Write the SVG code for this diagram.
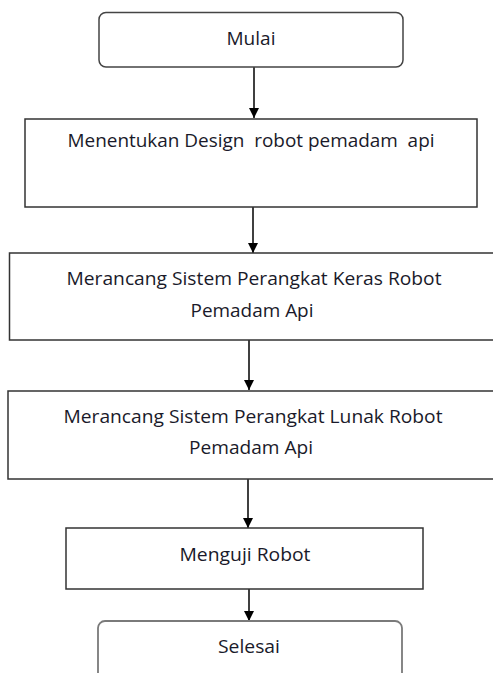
<svg xmlns="http://www.w3.org/2000/svg" width="493" height="673" viewBox="0 0 493 673">
  <style>
    .box { fill: #ffffff; stroke: #333333; stroke-width: 1.5; }
    .term { fill: #ffffff; stroke: #444444; stroke-width: 1.5; }
    .term-end { fill: #ffffff; stroke: #7a7a7a; stroke-width: 1.8; }
    .label { font-family: "Open Sans", "Liberation Sans", sans-serif; font-size: 18px; fill: #1a1a2a; text-anchor: middle; white-space: pre; }
    .flow { stroke: #000000; stroke-width: 1.5; fill: none; marker-end: url(#arrow); }
  </style>
  <defs>
    <marker id="arrow" viewBox="0 0 10 10" refX="10" refY="5" markerWidth="10" markerHeight="10" markerUnits="userSpaceOnUse" orient="auto">
      <path d="M0,0 L10,5 L0,10 Z" fill="#000000"/>
    </marker>
  </defs>
  <rect width="493" height="673" fill="#ffffff"/>

  <g id="connectors">
    <line class="flow" x1="254" y1="67" x2="254" y2="118"/>
    <line class="flow" x1="253" y1="207" x2="253" y2="253"/>
    <line class="flow" x1="249" y1="340" x2="249" y2="390"/>
    <line class="flow" x1="248" y1="479" x2="248" y2="528"/>
    <line class="flow" x1="249" y1="589" x2="249" y2="621"/>
  </g>

  <g id="mulai">
    <rect class="term" x="99" y="12.5" width="304" height="54.5" rx="7"/>
    <text class="label" x="251" y="45" textLength="49" lengthAdjust="spacingAndGlyphs">Mulai</text>
  </g>

  <g id="menentukan-design">
    <rect class="box" x="25" y="119" width="452" height="88"/>
    <text class="label" x="251" y="147" textLength="367" lengthAdjust="spacingAndGlyphs" xml:space="preserve">Menentukan Design  robot pemadam  api</text>
  </g>

  <g id="perangkat-keras">
    <rect class="box" x="9.5" y="253" width="500" height="87"/>
    <text class="label" x="254" y="285" textLength="375" lengthAdjust="spacingAndGlyphs">Merancang Sistem Perangkat Keras Robot</text>
    <text class="label" x="252" y="317" textLength="123" lengthAdjust="spacingAndGlyphs">Pemadam Api</text>
  </g>

  <g id="perangkat-lunak">
    <rect class="box" x="8" y="391" width="500" height="88"/>
    <text class="label" x="253" y="423" textLength="379" lengthAdjust="spacingAndGlyphs">Merancang Sistem Perangkat Lunak Robot</text>
    <text class="label" x="251" y="454" textLength="124" lengthAdjust="spacingAndGlyphs">Pemadam Api</text>
  </g>

  <g id="menguji-robot">
    <rect class="box" x="66" y="528" width="357" height="61"/>
    <text class="label" x="245" y="561" textLength="131" lengthAdjust="spacingAndGlyphs">Menguji Robot</text>
  </g>

  <g id="selesai">
    <rect class="term-end" x="98" y="621" width="304" height="70" rx="7"/>
    <text class="label" x="249" y="653" textLength="62" lengthAdjust="spacingAndGlyphs">Selesai</text>
  </g>
</svg>
